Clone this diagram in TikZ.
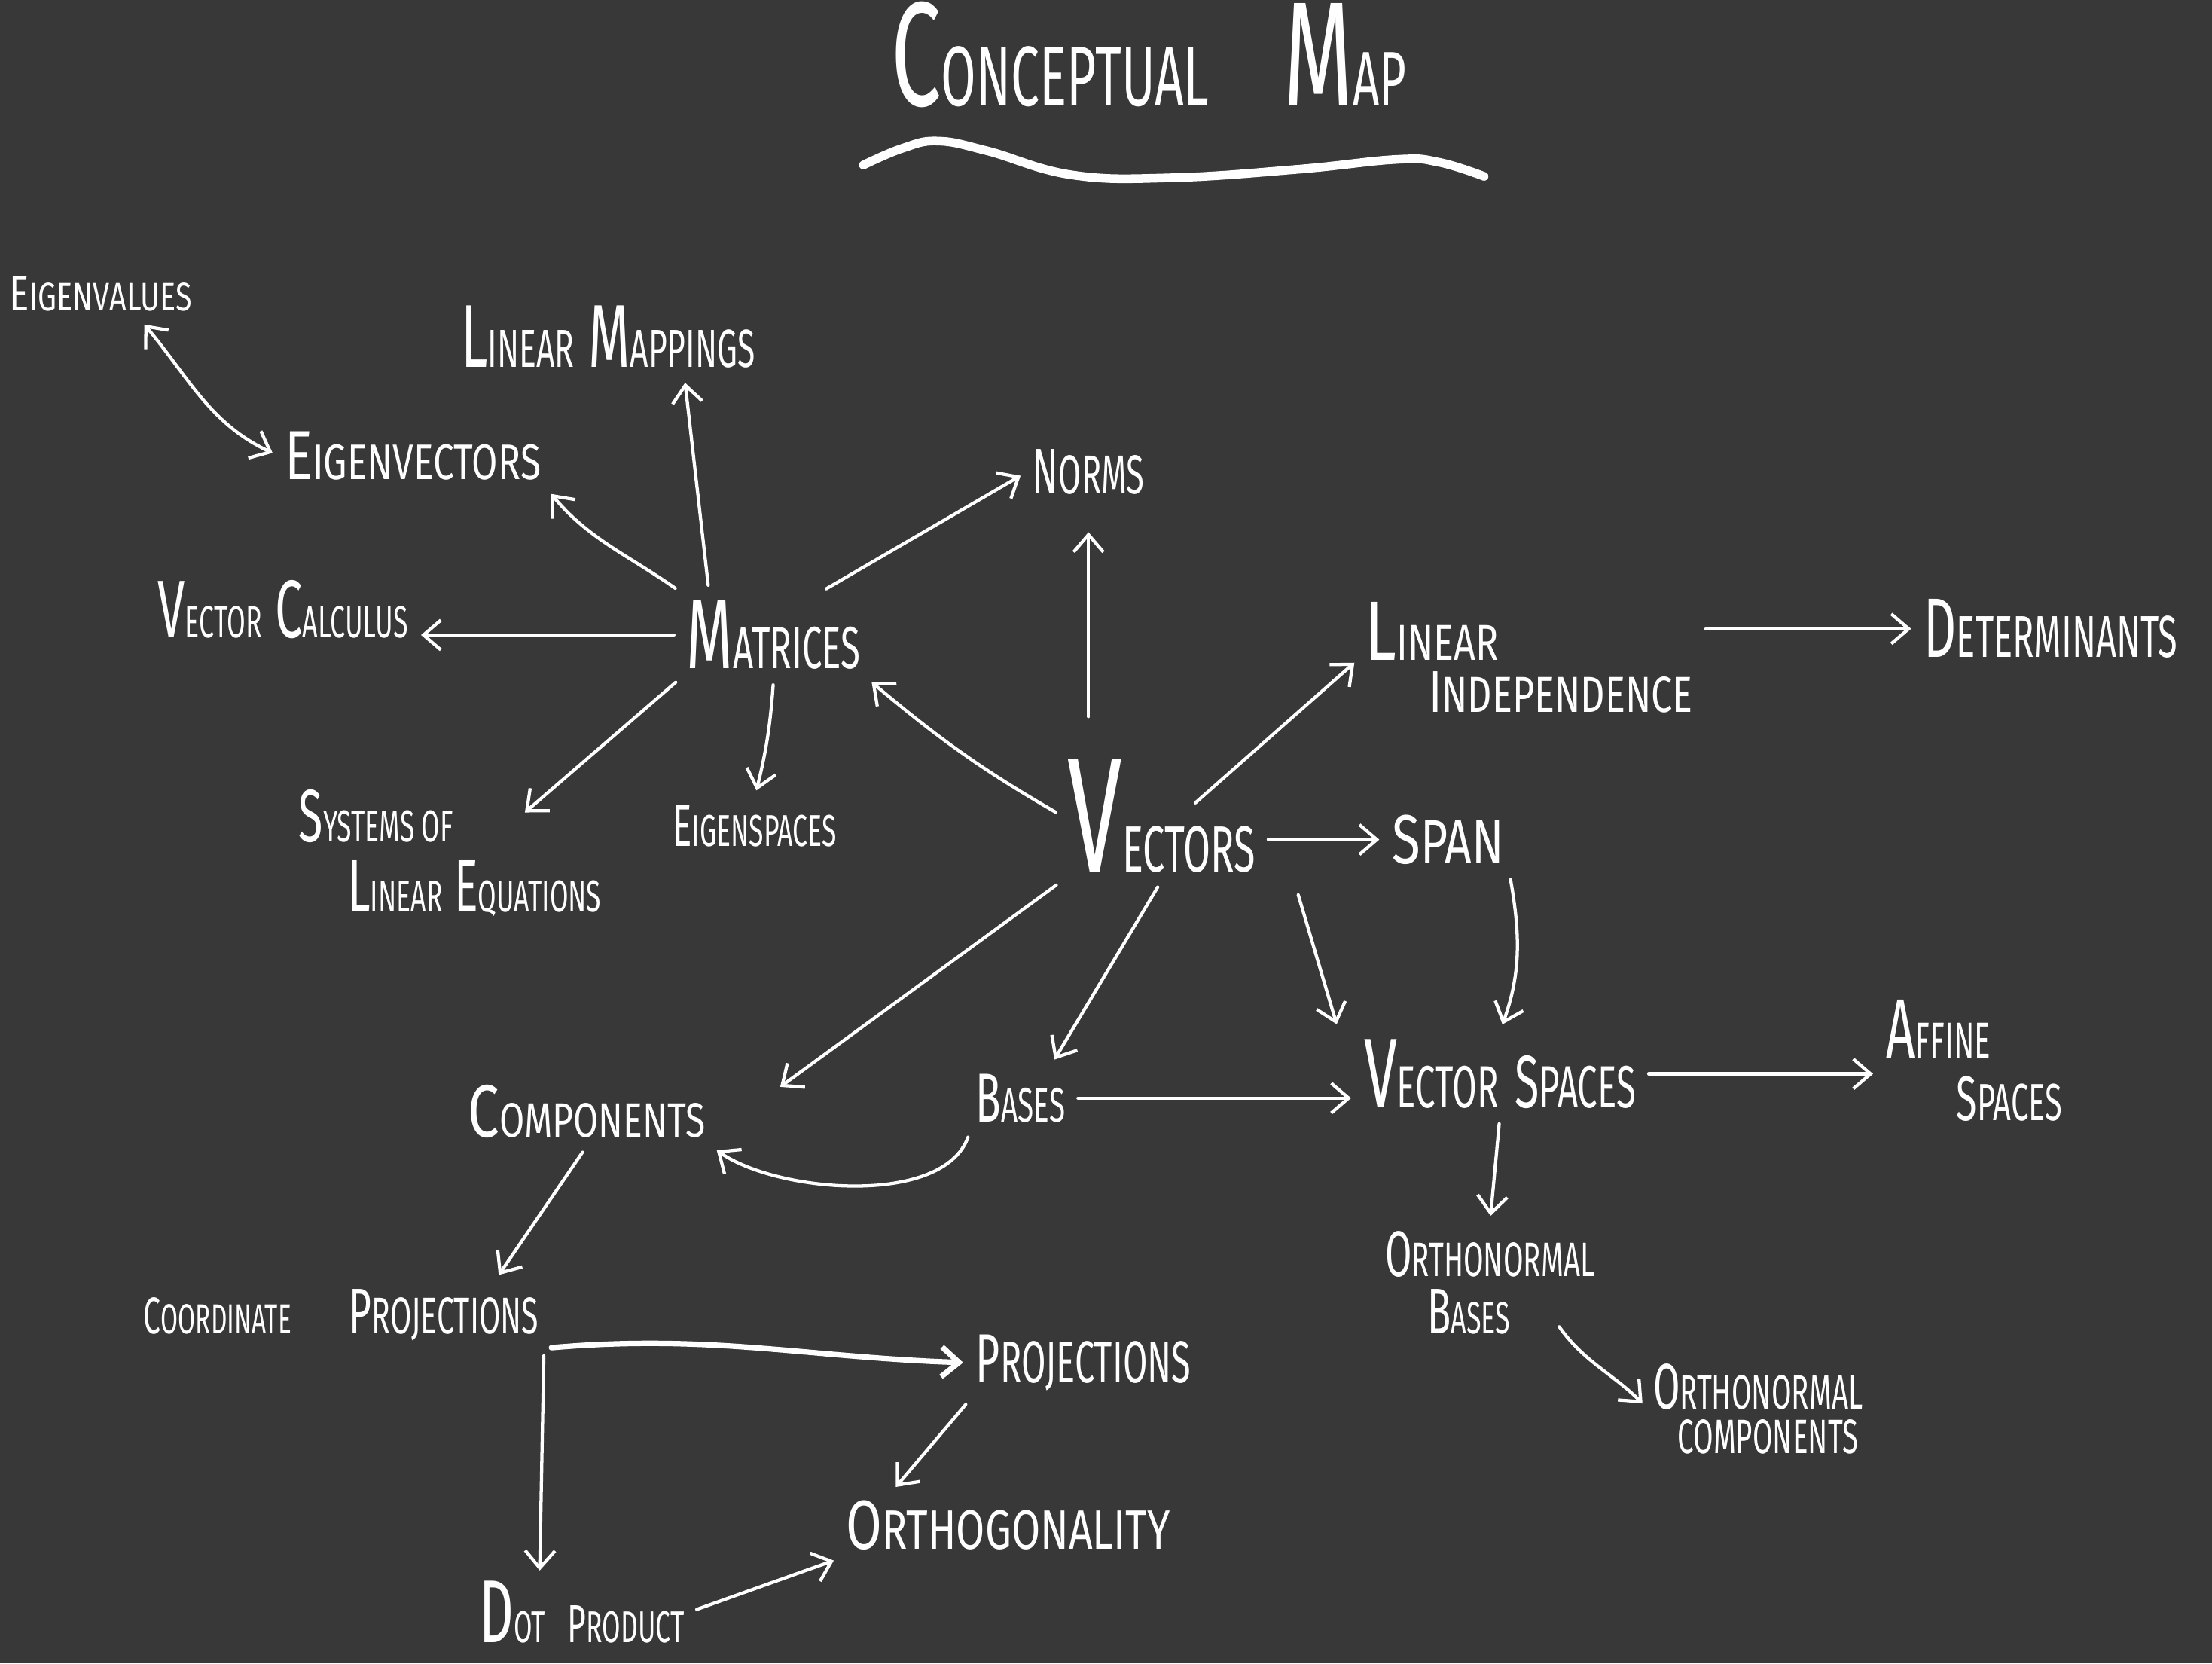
\documentclass[tikz,border=0pt]{standalone}
\usepackage{fontspec}
\newfontfamily\hand[FakeStretch=0.6]{Fira Sans}
\newfontfamily\handw[FakeStretch=0.75]{Fira Sans}
\usetikzlibrary{arrows.meta,calc}
\makeatletter
\newcommand\lo[2][0.65]{{\fontsize{\fpeval{#1*\f@size}}{\f@baselineskip}\selectfont #2}}
\makeatother
\definecolor{board}{HTML}{383838}
\tikzset{
 hb/.tip={Straight Barb[length=7pt,width=12pt]},
 lbl/.style={text=white, inner xsep=2pt, inner ysep=3pt, anchor=base west, align=left},
 fs/.style 2 args={font={\hand\fontsize{#1}{#2}\selectfont\lineskiplimit=-100pt\relax}},
 fsw/.style 2 args={font={\handw\fontsize{#1}{#2}\selectfont\lineskiplimit=-100pt\relax}},
 con/.style={draw=white, line width=1.3pt, line cap=round, line join=round, -hb, shorten >=3pt, shorten <=3pt},
 dcon/.style={con, hb-hb},
}
\begin{document}
\begin{tikzpicture}[x=0.02cm,y=-0.02cm]
\fill[board] (0,0) rectangle (1568,1179);
\useasboundingbox (0,0) rectangle (1568,1179);

\node[lbl,fs={60}{60}] (title) at (628,75) {C\lo[0.57]{ONCEPTUAL}\hspace{0.5em}M\lo[0.52]{AP}};
\draw[white, line width=3.5pt, line cap=round] plot[smooth, tension=0.7] coordinates {(612,117) (640,105) (665,100) (700,107) (760,124) (830,126) (920,120) (990,113) (1020,115) (1052,125)};

\node[lbl,fsw={20}{24}] (ev) at (3,220) {E\lo[0.8]{IGENVALUES}};
\node[lbl,fs={36}{40}] (lm) at (323,260) {L\lo[0.6]{INEAR} M\lo[0.6]{APPINGS}};
\node[lbl,fsw={28}{32}] (evec) at (198,340) {E\lo[0.72]{IGENVECTORS}};
\node[lbl,fs={26}{30}] (norms) at (728,350) {N\lo[0.85]{ORMS}};
\node[lbl,fs={33}{38}] (vc) at (108,452) {V\lo[0.55]{ECTOR} C\lo[0.55]{ALCULUS}};
\node[lbl,fs={40}{44}] (mat) at (483,474) {M\lo[0.6]{ATRICES}};
\node[lbl,fsw={34}{21}] (li) at (964,505) {L\lo[0.6]{INEAR}\\\hspace*{0.9cm}\lo[0.7]{I}\lo[0.6]{NDEPENDENCE}};
\node[lbl,fs={34}{38}] (det) at (1360,466) {D\lo[0.7]{ETERMINANTS}};
\node[lbl,fs={30}{28}] (sys) at (208,646) {S\lo[0.6]{YSTEMS OF}\\\hspace*{0.7cm}L\lo[0.6]{INEAR} E\lo[0.6]{QUATIONS}};
\node[lbl,fs={24}{28}] (esp) at (473,600) {E\lo[0.75]{IGENSPACES}};
\node[lbl,fs={66}{70}] (vec) at (753,618) {V\lo[0.4]{ECTORS}};
\node[lbl,fsw={28}{32}] (span) at (983,612) {S\lo[0.9]{PAN}};
\node[lbl,fsw={30}{34}] (comp) at (328,806) {C\lo[0.65]{OMPONENTS}};
\node[lbl,fs={28}{32}] (bases) at (688,795) {B\lo[0.7]{ASES}};
\node[lbl,fs={40}{44}] (vs) at (963,785) {V\lo[0.6]{ECTOR} \lo[0.75]{S}\lo[0.6]{PACES}};
\node[lbl,fs={34}{25}] (aff) at (1333,794) {A\lo[0.6]{FFINE}\\\hspace*{1.0cm}\lo[0.75]{S}\lo[0.62]{PACES}};
\node[lbl,fs={26}{23}] (ob) at (978,945) {O\lo[0.75]{RTHONORMAL}\\\hspace*{0.6cm}B\lo[0.7]{ASES}};
\node[lbl,fs={26}{18}] (oc) at (1168,1030) {O\lo[0.75]{RTHONORMAL}\\\hspace*{0.35cm}\lo[0.75]{COMPONENTS}};
\node[lbl,fs={26}{30}] (cp) at (98,945) {\lo[0.8]{C}\lo[0.65]{OORDINATE}\hspace{0.9em}P\lo[0.8]{ROJECTIONS}};
\node[lbl,fs={28}{32}] (proj) at (688,980) {P\lo[0.85]{ROJECTIONS}};
\node[lbl,fsw={28}{32}] (orth) at (596,1098) {O\lo[0.8]{RTHOGONALITY}};
\node[lbl,fs={36}{40}, inner ysep=1pt] (dot) at (336,1164) {D\lo[0.5]{OT}\hspace{0.25em}\lo[0.6]{P}\lo[0.5]{RODUCT}};

\draw[dcon] ($(ev.south)!0.4!(ev.south east)$) to[out=-50,in=155] (evec.west);
\draw[con] ($(mat.north west)!0.3!(mat.north)$) -- ($(lm.south)!0.5!(lm.south east)$);
\draw[con] (mat.north west) to[out=145,in=-50] (evec.south east);
\draw[con] ($(mat.north)!0.5!(mat.north east)$) -- (norms.west);
\draw[con] (mat.west) -- (vc.east |- mat.west);
\draw[con] (mat.south west) -- ($(sys.north east)+(-62,25)$);
\draw[con] (mat.south) to[bend left=5] (esp.north);
\draw[con] (vec.west) to[out=150,in=-40] (mat.south east);
\draw[con, shorten <=14pt, shorten >=12pt] (norms.south |- vec.north) -- (norms.south);
\draw[con] ($(vec.north)+(20,40)$) -- (li.west);
\draw[con] (li.east |- det.west) -- (det.west);
\draw[con] (vec.east |- span.west) -- (span.west);
\draw[con] (span.south east) to[out=-80,in=70] (vs.north);
\draw[con] ($(vec.south east)+(25,5)$) -- ($(vs.north west)+(-14,0)$);
\draw[con] (vec.south) -- ($(bases.north)!0.6!(bases.north east)$);
\draw[con] (vec.south west) -- ($(comp.north east)+(45,10)$);
\draw[con] (bases.south west) to[out=-110,in=-35,looseness=0.8] (comp.south east);
\draw[con] (bases.east) -- (vs.west |- bases.east);
\draw[con] (vs.east) -- (aff.west |- vs.east);
\draw[con] (vs.south) -- (ob.north);
\draw[con] ($(ob.south east)+(-32,-15)$) to[out=-55,in=135] (oc.west);
\draw[con] (comp.south) -- ($(cp.north east)+(-35,0)$);
\draw[con, line width=2.2pt] (cp.south east) to[out=5,in=178] (proj.west);
\draw[con] (cp.south east) -- ($(dot.north)+(-30,0)$);
\draw[con] (proj.south west) -- ($(orth.north west)!0.3!(orth.north)$);
\draw[con] (dot.east) -- (orth.south west);
\end{tikzpicture}
\end{document}
